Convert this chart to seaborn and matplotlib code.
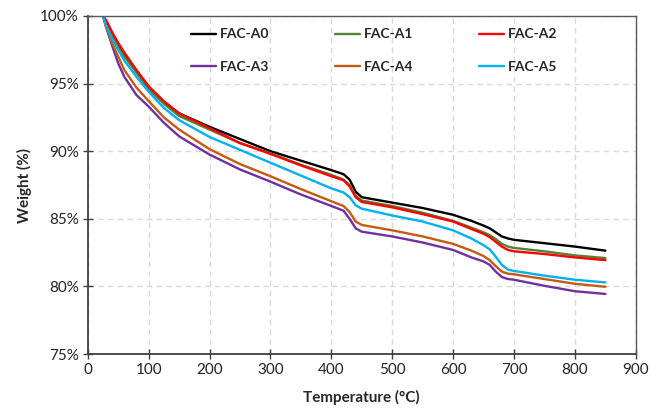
import matplotlib
matplotlib.use("Agg")
import matplotlib.pyplot as plt
import seaborn as sns
import pandas as pd
import numpy as np
from matplotlib.ticker import FuncFormatter

temps = [25, 30, 40, 50, 60, 80, 100, 125, 150, 200, 250, 300, 350, 400, 420, 430, 440, 450,
         500, 550, 600, 630, 650, 660, 670, 680, 690, 700, 750, 800, 850]

a0 = [100, 99.5, 98.6, 97.8, 97.1, 95.9, 94.75, 93.6, 92.8, 91.8, 90.9, 90.0, 89.3, 88.6, 88.3, 87.9,
      87.0, 86.6, 86.2, 85.8, 85.3, 84.85, 84.5, 84.3, 84.0, 83.7, 83.55, 83.45, 83.2, 82.95, 82.65]
a1 = [100, 99.4, 98.5, 97.7, 97.0, 95.8, 94.6, 93.5, 92.6, 91.6, 90.6, 89.85, 89.0, 88.25, 87.9, 87.5,
      86.7, 86.35, 85.95, 85.45, 84.85, 84.35, 84.0, 83.8, 83.5, 83.15, 82.95, 82.85, 82.6, 82.3, 82.1]
a2 = [100, 99.7, 98.8, 98.0, 97.3, 96.0, 94.8, 93.7, 92.8, 91.7, 90.6, 89.8, 88.95, 88.15, 87.85, 87.4,
      86.6, 86.25, 85.85, 85.35, 84.8, 84.25, 83.9, 83.65, 83.3, 82.95, 82.7, 82.6, 82.4, 82.15, 81.95]
a3 = [100, 99.2, 97.8, 96.5, 95.5, 94.15, 93.3, 92.1, 91.1, 89.75, 88.65, 87.75, 86.8, 85.95, 85.6, 85.0,
      84.3, 84.05, 83.7, 83.25, 82.7, 82.15, 81.85, 81.6, 81.1, 80.7, 80.55, 80.5, 80.05, 79.65, 79.45]
a4 = [100, 99.2, 98.0, 97.0, 96.0, 94.7, 93.7, 92.5, 91.6, 90.15, 89.05, 88.15, 87.2, 86.3, 85.95, 85.5,
      84.8, 84.55, 84.15, 83.7, 83.15, 82.65, 82.25, 81.95, 81.5, 81.1, 80.95, 80.9, 80.55, 80.2, 79.98]
a5 = [100, 99.3, 98.3, 97.5, 96.7, 95.5, 94.4, 93.2, 92.3, 91.05, 90.1, 89.15, 88.2, 87.25, 86.95, 86.6,
      86.0, 85.75, 85.25, 84.8, 84.15, 83.55, 83.05, 82.75, 82.2, 81.6, 81.25, 81.15, 80.8, 80.5, 80.3]

names = ["FAC-A0", "FAC-A1", "FAC-A2", "FAC-A3", "FAC-A4", "FAC-A5"]
series = [a0, a1, a2, a3, a4, a5]
colors = ["#000000", "#548235", "#FF0000", "#7030A0", "#C55A11", "#00B0F0"]

x_ticks = [0, 100, 200, 300, 400, 500, 600, 700, 800, 900]
y_ticks = [75, 80, 85, 90, 95, 100]

rows = []
for n, s in zip(names, series):
    for t, w in zip(temps, s):
        rows.append({"Temperature": t, "Weight": w, "Sample": n})
df = pd.DataFrame(rows)

sns.set_theme(style="white")
plt.rcParams["font.family"] = ["Lato", "DejaVu Sans"]

fig = plt.figure(figsize=(6.7, 4.08), dpi=100)
ax = fig.add_axes([0.131, 0.132, 0.818, 0.829])

sns.lineplot(data=df, x="Temperature", y="Weight", hue="Sample", hue_order=names,
             palette=colors, linewidth=1.7, ax=ax, legend=False, sort=True, estimator=None)

ax.set_xlim(0, 900)
ax.set_ylim(75, 100)
ax.set_xticks(x_ticks)
ax.set_yticks(y_ticks)
ax.yaxis.set_major_formatter(FuncFormatter(lambda v, p: f"{v:.0f}%"))
ax.grid(True, color="#D9D9D9", linestyle=(0, (4, 3)), linewidth=1)
ax.set_axisbelow(True)

for side in ["left", "bottom"]:
    ax.spines[side].set_color("#404040")
    ax.spines[side].set_linewidth(1.3)
for side in ["top", "right"]:
    ax.spines[side].set_color("#595959")
    ax.spines[side].set_linewidth(1.0)

ax.tick_params(axis="both", direction="inout", length=7, width=1, color="#404040",
               labelsize=11, labelcolor="#222222", left=True, bottom=True, pad=3)

ax.set_xlabel("Temperature (°C)", fontsize=11, fontweight="bold", labelpad=9)
ax.set_ylabel("Weight (%)", fontsize=11, fontweight="bold", labelpad=6)

handles = [plt.Line2D([], [], color=c, lw=1.7) for c in colors]
order = [0, 3, 1, 4, 2, 5]
leg = ax.legend([handles[i] for i in order], [names[i] for i in order], ncol=3,
                loc="upper left", bbox_to_anchor=(0.165, 1.0), frameon=False,
                prop={"weight": "bold", "size": 10}, handlelength=1.85, handletextpad=0.25,
                columnspacing=4.7, labelspacing=1.45)

fig.savefig("out.png", dpi=100)
